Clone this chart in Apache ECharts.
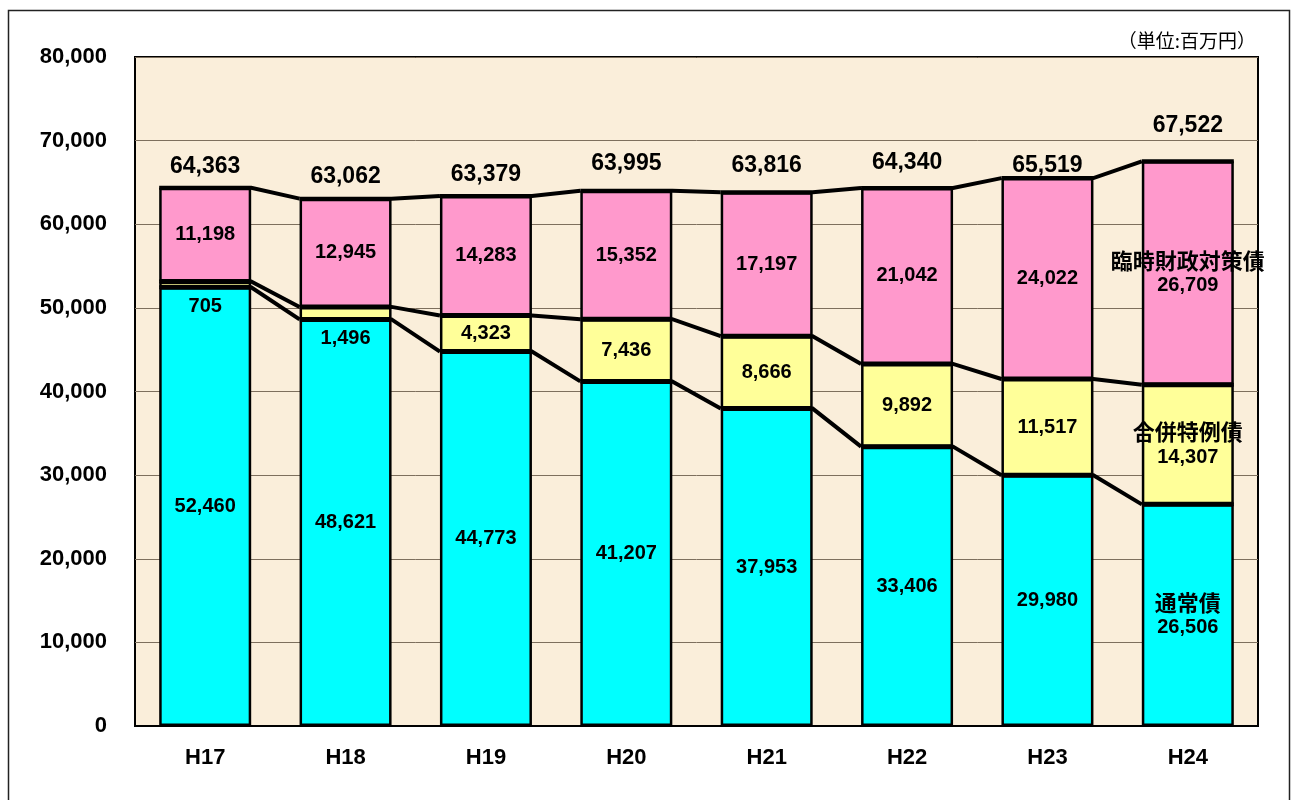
<!DOCTYPE html>
<html>
<head>
<meta charset="utf-8">
<script src="https://cdn.jsdelivr.net/npm/echarts@6/dist/echarts.min.js"></script>
<style>
  html, body { margin: 0; background: #fff; }
  #chart { width: 1294px; height: 800px; }
</style>
</head>
<body>
<div id="chart"></div>
<script>
// 地方債残高の推移（単位:百万円）
const years = ['H17', 'H18', 'H19', 'H20', 'H21', 'H22', 'H23', 'H24'];
const tsujo = [52460, 48621, 44773, 41207, 37953, 33406, 29980, 26506];   // 通常債
const gappei = [705, 1496, 4323, 7436, 8666, 9892, 11517, 14307];         // 合併特例債
const rinji = [11198, 12945, 14283, 15352, 17197, 21042, 24022, 26709];   // 臨時財政対策債
const totals = [64363, 63062, 63379, 63995, 63816, 64340, 65519, 67522];
const seriesNames = ['通常債', '合併特例債', '臨時財政対策債'];
const yTicks = [0, 10000, 20000, 30000, 40000, 50000, 60000, 70000, 80000];

const NUM_FONT = '"Liberation Sans", Arial, sans-serif';
const JP_FONT = '"Noto Sans CJK JP", sans-serif';
const BAR_W = 92;

// 合計ラベルの上下位置の微調整（元図に合わせて）
const totalLift = [0, 0, 0, 6, 5, 4, -9, 14];

const fmt = v => v.toLocaleString('en-US');

function barSeries(name, values, color) {
  return {
    name: name,
    type: 'bar',
    stack: 'debt',
    barWidth: BAR_W,
    itemStyle: { color: color, borderColor: '#000', borderWidth: 2.5 },
    label: {
      show: true,
      position: 'inside',
      color: '#000',
      fontFamily: NUM_FONT,
      fontWeight: 'bold',
      fontSize: 20,
      formatter: p => fmt(p.value),
      rich: {
        n: { fontFamily: JP_FONT, fontWeight: 'bold', fontSize: 22, color: '#000', lineHeight: 25 },
        v: { fontFamily: NUM_FONT, fontWeight: 'bold', fontSize: 20, color: '#000', lineHeight: 25 }
      }
    },
    data: values.map((v, i) => {
      const item = { value: v };
      // 薄い区分は数値を下に出す
      if (v < 2000) item.label = { position: 'bottom', distance: 9 };
      // 最終年度には系列名を添える
      if (i === values.length - 1) {
        item.label = { formatter: '{n|' + name + '}\n{v|' + fmt(v) + '}' };
      }
      return item;
    })
  };
}

const chart = echarts.init(document.getElementById('chart'), null, { renderer: 'canvas' });

chart.setOption({
  animation: false,
  backgroundColor: '#fff',
  grid: {
    left: 135, right: 36, top: 57, bottom: 74,
    show: true,
    backgroundColor: '#FAEEDA',
    borderColor: '#000',
    borderWidth: 2
  },
  xAxis: {
    type: 'category',
    data: years,
    axisLine: { lineStyle: { color: '#000', width: 2 } },
    axisTick: { inside: true, length: 5, lineStyle: { color: '#000' } },
    axisLabel: { color: '#000', fontFamily: NUM_FONT, fontWeight: 'bold', fontSize: 22, margin: 21 }
  },
  yAxis: {
    type: 'value',
    min: yTicks[0],
    max: yTicks[yTicks.length - 1],
    interval: yTicks[1] - yTicks[0],
    axisLine: { show: false },
    axisTick: { show: false },
    splitLine: { lineStyle: { color: '#7d6f5d', width: 1 } },
    axisLabel: { color: '#000', fontFamily: NUM_FONT, fontWeight: 'bold', fontSize: 22, margin: 28, formatter: v => fmt(v) }
  },
  graphic: [
    {
      type: 'rect', left: 6, top: 8, silent: true,
      shape: { width: 1281, height: 820 },
      style: { fill: 'none', stroke: '#222', lineWidth: 1.5 }
    },
    {
      type: 'text', right: 38, top: 31,
      style: { text: '（単位:百万円）', font: '19px "Noto Sans CJK JP", sans-serif', fill: '#000' }
    }
  ],
  series: [
    barSeries(seriesNames[0], tsujo, '#00FFFF'),
    barSeries(seriesNames[1], gappei, '#FFFF99'),
    barSeries(seriesNames[2], rinji, '#FF99CC'),
    {
      // 区分の境界線・棒をつなぐ線と合計値
      type: 'custom',
      z: 5,
      clip: false,
      data: totals.map((t, i) => [i, t]),
      encode: { x: 0, y: 1 },
      renderItem: function (params, api) {
        const i = api.value(0);
        const children = [];
        const top = api.coord([i, totals[i]]);
        children.push({
          type: 'text',
          style: {
            text: fmt(totals[i]),
            x: top[0],
            y: top[1] - 10 - totalLift[i],
            align: 'center',
            verticalAlign: 'bottom',
            font: 'bold 23px ' + NUM_FONT,
            fill: '#000'
          }
        });
        const levelsAt = k => [tsujo[k], tsujo[k] + gappei[k], totals[k]];
        const cur = levelsAt(i);
        const next = i < totals.length - 1 ? levelsAt(i + 1) : null;
        cur.forEach((a, j) => {
          const p1 = api.coord([i, a]);
          const pts = [[p1[0] - BAR_W / 2, p1[1]], [p1[0] + BAR_W / 2, p1[1]]];
          if (next) {
            const p2 = api.coord([i + 1, next[j]]);
            pts.push([p2[0] - BAR_W / 2, p2[1]]);
          }
          children.push({
            type: 'polyline',
            shape: { points: pts },
            style: { stroke: '#000', lineWidth: 4, fill: null, lineJoin: 'miter' }
          });
        });
        return { type: 'group', children: children };
      }
    }
  ]
});
</script>
</body>
</html>
